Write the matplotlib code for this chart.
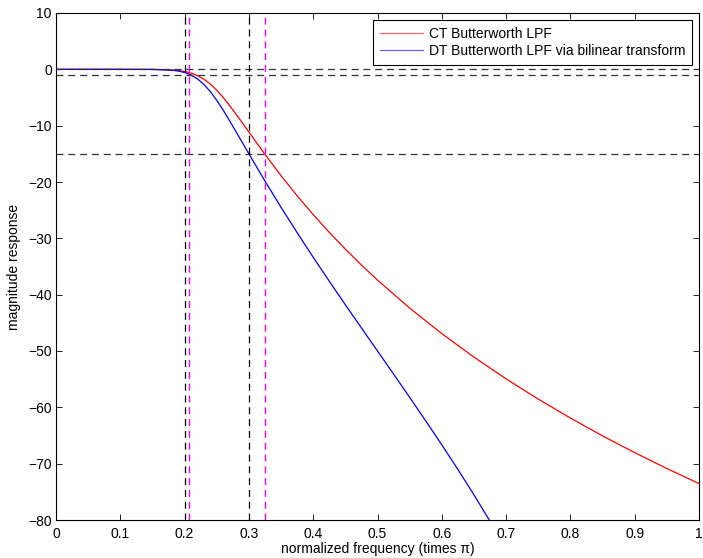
import matplotlib
matplotlib.use("Agg")
import matplotlib.pyplot as plt

# frequency (times pi) and magnitude response in dB
freq_ct = [0, 0.05, 0.10, 0.15, 0.18, 0.19, 0.20, 0.21, 0.22, 0.23, 0.24, 0.25,
           0.26, 0.27, 0.28, 0.29, 0.30, 0.325, 0.35, 0.375, 0.40, 0.425, 0.45,
           0.475, 0.50, 0.55, 0.60, 0.65, 0.70, 0.75, 0.80, 0.85, 0.90, 0.95, 1.00]
mag_ct = [0, 0, 0, -0.01, -0.11, -0.21, -0.38, -0.67, -1.11, -1.75, -2.61, -3.70,
          -4.99, -6.42, -7.95, -9.53, -11.14, -15.09, -18.88, -22.44, -25.79, -28.94, -31.92,
          -34.74, -37.41, -42.38, -46.91, -51.08, -54.95, -58.54, -61.90, -65.07, -68.04, -70.86, -73.53]

freq_dt = [0, 0.05, 0.10, 0.15, 0.18, 0.19, 0.20, 0.21, 0.22, 0.23, 0.24, 0.25,
           0.26, 0.27, 0.28, 0.29, 0.30, 0.325, 0.35, 0.375, 0.40, 0.425, 0.45,
           0.475, 0.50, 0.525, 0.55, 0.575, 0.60, 0.625, 0.65, 0.675, 0.70]
mag_dt = [0, 0, 0, -0.02, -0.15, -0.30, -0.56, -1.00, -1.69, -2.67, -3.95, -5.51,
          -7.25, -9.13, -11.08, -13.04, -15.00, -19.84, -24.50, -28.99, -33.36, -37.61, -41.79,
          -45.90, -50.00, -54.10, -58.23, -62.40, -66.66, -71.02, -75.53, -80.22, -85.14]

# spec lines
wp, ws = 0.2, 0.3            # digital band edges
Wp, Ws = 0.2068, 0.3244      # prewarped analog edges
h_levels = [0, -1, -15]      # dB levels

xticks = [0, 0.1, 0.2, 0.3, 0.4, 0.5, 0.6, 0.7, 0.8, 0.9, 1]
xticklabels = ["0", "0.1", "0.2", "0.3", "0.4", "0.5", "0.6", "0.7", "0.8", "0.9", "1"]
yticks = list(range(-80, 11, 10))

plt.rcParams["font.family"] = ["Liberation Sans", "DejaVu Sans"]
plt.rcParams["lines.scale_dashes"] = False
FS = 10

fig = plt.figure(figsize=(7.03, 5.58), dpi=100)
ax = fig.add_axes([56 / 703, 38 / 558, 643 / 703, 507 / 558])

ax.plot(freq_ct, mag_ct, color="red", lw=0.9, label="CT Butterworth LPF")
ax.plot(freq_dt, mag_dt, color="blue", lw=0.9,
        label="DT Butterworth LPF via bilinear transform")

dash = (0, (5, 3.5))
for lvl in h_levels:
    ax.axhline(lvl, color="#333333", lw=0.9, ls=dash)
for f in (wp, ws):
    ax.axvline(f, color="black", lw=0.9, ls=dash)
for f in (Wp, Ws):
    ax.axvline(f, color="#ff00ff", lw=1.0, ls=dash)

ax.set_xlim(0, 1)
ax.set_ylim(-80, 10)
ax.set_xticks(xticks)
ax.set_xticklabels(xticklabels)
ax.set_yticks(yticks)
ax.tick_params(direction="in", length=4, width=0.6, labelsize=FS,
               top=True, right=True)
ax.tick_params(axis="x", pad=5)
ax.tick_params(axis="y", pad=3)
for s in ax.spines.values():
    s.set_linewidth(0.8)

ax.set_xlabel("normalized frequency (times π)", fontsize=FS, labelpad=1)
ax.set_ylabel("magnitude response", fontsize=FS, labelpad=5)

leg = ax.legend(loc="upper right", fontsize=FS, handlelength=3.1,
                borderaxespad=0.5, fancybox=False, framealpha=1,
                edgecolor="black", borderpad=0.5, labelspacing=0.2,
                handletextpad=0.4)
leg.get_frame().set_linewidth(0.8)
for h in leg.get_lines():
    h.set_alpha(0.6)

fig.savefig("out.png", dpi=100)
